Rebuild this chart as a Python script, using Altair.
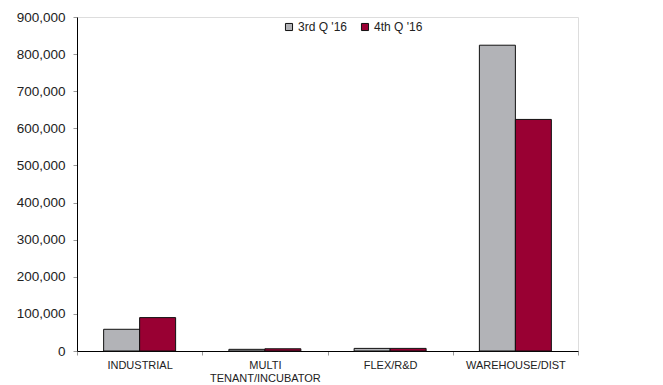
import altair as alt
import pandas as pd

categories = ["INDUSTRIAL", "MULTI TENANT/INCUBATOR", "FLEX/R&D", "WAREHOUSE/DIST"]
series = ["3rd Q '16", "4th Q '16"]
q3_values = [58500, 4500, 7000, 824000]
q4_values = [90000, 6000, 7000, 624000]
colors = ["#B2B3B7", "#990033"]

rows = []
for cat, a, b in zip(categories, q3_values, q4_values):
    rows.append({"category": cat, "quarter": series[0], "value": a})
    rows.append({"category": cat, "quarter": series[1], "value": b})
df = pd.DataFrame(rows)

font = "Liberation Sans"

chart = alt.Chart(df).mark_bar(stroke="#111111", strokeWidth=1).encode(
    x=alt.X(
        "category:N",
        sort=categories,
        scale=alt.Scale(paddingInner=0, paddingOuter=0),
        axis=alt.Axis(
            title=None,
            labelAngle=0,
            labelFont=font,
            labelFontSize=11,
            labelColor="#222222",
            labelPadding=4,
            tickBand="extent",
            tickColor="#999999",
            tickSize=4,
            domainColor="#000000",
            labelExpr="datum.value == 'MULTI TENANT/INCUBATOR' ? ['MULTI', 'TENANT/INCUBATOR'] : datum.label",
        ),
    ),
    xOffset=alt.XOffset("quarter:N", sort=series, scale=alt.Scale(paddingOuter=0.74, paddingInner=0)),
    y=alt.Y(
        "value:Q",
        scale=alt.Scale(domain=[0, 900000]),
        axis=alt.Axis(
            title=None,
            values=list(range(0, 900001, 100000)),
            format=",d",
            grid=False,
            labelFont=font,
            labelFontSize=13.5,
            labelColor="#222222",
            labelPadding=8,
            tickColor="#999999",
            tickSize=4,
            domainColor="#000000",
        ),
    ),
    color=alt.Color(
        "quarter:N",
        sort=series,
        scale=alt.Scale(domain=series, range=colors),
        legend=alt.Legend(
            title=None,
            orient="none",
            legendX=206,
            legendY=4,
            direction="horizontal",
            symbolType="square",
            symbolSize=50,
            symbolStrokeColor="#111111",
            symbolStrokeWidth=1,
            labelFont=font,
            labelFontSize=12,
            labelColor="#222222",
            columnPadding=12,
            labelOffset=3,
        ),
    ),
).properties(
    width=501,
    height=334,
    autosize=alt.AutoSizeParams(type="none"),
    padding={"left": 77, "top": 17, "right": 85, "bottom": 34},
).configure_view(stroke=None).configure(background="white")

chart.save("out.html", embed_options={"renderer": "svg", "actions": False})
